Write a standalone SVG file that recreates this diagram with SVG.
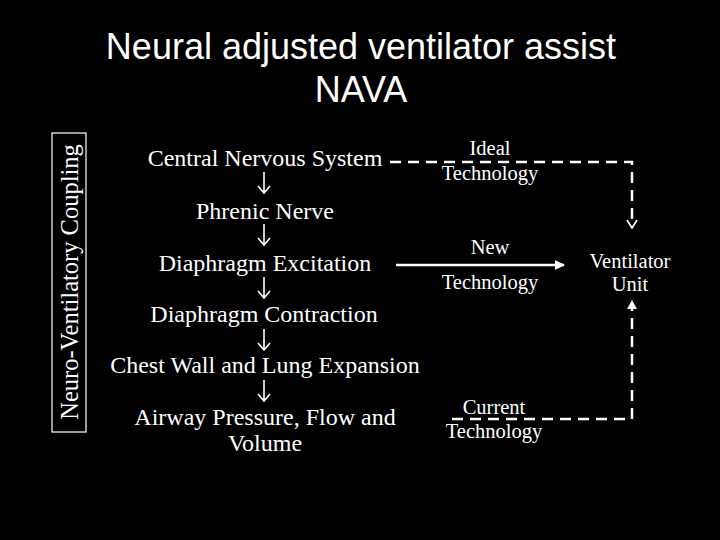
<svg xmlns="http://www.w3.org/2000/svg" width="720" height="540" viewBox="0 0 720 540">
<style>
.t{font-family:"Liberation Serif",serif;fill:#fff;font-size:24px;text-anchor:middle}
.s{font-size:20.5px}
.h{font-family:"Liberation Sans",sans-serif;fill:#fff;font-size:36px;text-anchor:middle}
.a{stroke:#fff;stroke-width:1.6;fill:none}
.d{stroke:#fff;stroke-width:2.5;fill:none;stroke-dasharray:11 7}
</style>
<defs>
<marker id="m" viewBox="0 0 10 10" refX="9" refY="5" markerWidth="4" markerHeight="4" orient="auto"><path d="M0,0L10,5L0,10z" fill="#fff"/></marker>
</defs>
<rect width="720" height="540" fill="#000"/>
<g id="title"><text class="h" x="361" y="59">Neural adjusted ventilator assist</text><text class="h" x="361" y="102">NAVA</text></g>
<g id="side"><rect x="52" y="133" width="34" height="299" fill="none" stroke="#fff" stroke-width="1.2"/><text class="t" style="font-size:24.5px" transform="translate(78 282) rotate(-90)">Neuro-Ventilatory Coupling</text></g>
<g id="cns"><text class="t" x="265" y="166">Central Nervous System</text></g>
<g id="phrenic"><text class="t" x="265" y="219">Phrenic Nerve</text></g>
<g id="dexc"><text class="t" x="265" y="271">Diaphragm Excitation</text></g>
<g id="dcon"><text class="t" x="264" y="322">Diaphragm Contraction</text></g>
<g id="chest"><text class="t" x="265" y="373">Chest Wall and Lung Expansion</text></g>
<g id="airway"><text class="t" x="265" y="425">Airway Pressure, Flow and</text><text class="t" x="265" y="451">Volume</text></g>
<g id="ideal"><text class="t s" x="490" y="155">Ideal</text><text class="t s" x="490" y="180">Technology</text></g>
<g id="new"><text class="t s" x="490" y="254">New</text><text class="t s" x="490" y="289">Technology</text></g>
<g id="current"><text class="t s" x="494" y="414">Current</text><text class="t s" x="494" y="438">Technology</text></g>
<g id="vent"><text class="t s" x="630" y="268">Ventilator</text><text class="t s" x="630" y="291">Unit</text></g>
<g id="connectors">
<g class="a">
<path d="M264 172V193M258 186L264 193L270 186"/>
<path d="M264 224V245M258 238L264 245L270 238"/>
<path d="M264 277V298M258 291L264 298L270 291"/>
<path d="M264 329V350M258 343L264 350L270 343"/>
<path d="M264 380V401M258 394L264 401L270 394"/>
</g>
<path class="d" d="M390 162H632V222"/>
<path d="M627 220L632 228L637 220" class="a" stroke-width="2"/>
<line x1="396" y1="265" x2="564" y2="265" stroke="#fff" stroke-width="2.5" marker-end="url(#m)"/>
<path class="d" d="M452 419H632V308"/>
<path d="M627 309L632 300L637 309z" fill="#fff"/>
</g>
</svg>
